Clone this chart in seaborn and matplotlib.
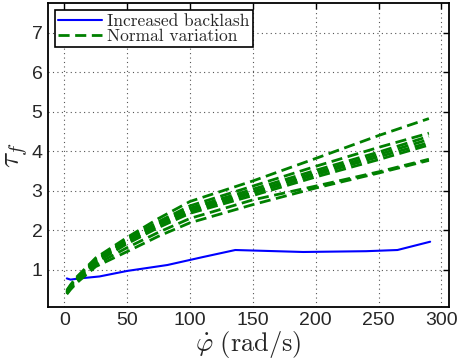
import numpy as np
import pandas as pd
import matplotlib
matplotlib.use("Agg")
import matplotlib.pyplot as plt
import seaborn as sns

# Data
blue_x = [2, 5, 12, 28, 50, 82, 110, 136, 190, 240, 265, 291]
blue_y = [0.78, 0.75, 0.78, 0.83, 0.97, 1.12, 1.32, 1.50, 1.45, 1.47, 1.50, 1.71]

green_x = [2, 5, 10, 25, 50, 75, 100, 150, 200, 250, 290]
green_a = [0.48, 0.62, 0.82, 1.30, 1.82, 2.30, 2.73, 3.25, 3.82, 4.40, 4.83]
green_b = [0.46, 0.60, 0.80, 1.27, 1.78, 2.22, 2.62, 3.12, 3.62, 4.10, 4.46]
green_c = [0.44, 0.58, 0.78, 1.25, 1.75, 2.18, 2.56, 3.04, 3.52, 3.98, 4.38]
green_d = [0.43, 0.57, 0.77, 1.23, 1.72, 2.14, 2.52, 2.98, 3.46, 3.92, 4.30]
green_e = [0.42, 0.56, 0.76, 1.21, 1.70, 2.11, 2.48, 2.94, 3.41, 3.86, 4.22]
green_f = [0.40, 0.55, 0.74, 1.18, 1.66, 2.07, 2.43, 2.88, 3.35, 3.79, 4.16]
green_g = [0.40, 0.53, 0.71, 1.13, 1.56, 1.95, 2.30, 2.77, 3.12, 3.48, 3.80]
green_h = [0.38, 0.50, 0.67, 1.08, 1.46, 1.85, 2.19, 2.65, 3.07, 3.45, 3.77]
green_curves = [green_a, green_b, green_c, green_d, green_e, green_f, green_g, green_h]

xticks = [0, 50, 100, 150, 200, 250, 300]
yticks = [1, 2, 3, 4, 5, 6, 7]

sns.set_style("white")
plt.rcParams['mathtext.fontset'] = 'cm'

fig = plt.figure(figsize=(4.61, 3.64), dpi=100)
ax = fig.add_axes([0.104, 0.157, 0.870, 0.835])

sns.lineplot(x=blue_x, y=blue_y, ax=ax, color='#0000ff', linewidth=1.5,
             label='Increased backlash', estimator=None, sort=False)
for i, cy in enumerate(green_curves):
    sns.lineplot(x=green_x, y=cy, ax=ax, color='#008000', linewidth=2.0,
                 label='Normal variation' if i == 0 else None,
                 estimator=None, sort=False)
for ln in ax.lines[1:]:
    ln.set_dashes((4, 2))

ax.set_xlim(-13, 306)
ax.set_ylim(0.06, 7.76)
ax.set_xticks(xticks)
ax.set_yticks(yticks)
ax.grid(True, linestyle=(0, (1, 3)), color='#555555', linewidth=0.8)
ax.tick_params(direction='in', top=True, right=True, length=4, width=1,
               labelsize=14, color='black', pad=4)
for lab in ax.get_xticklabels() + ax.get_yticklabels():
    lab.set_family('Liberation Sans')
for s in ax.spines.values():
    s.set_linewidth(1.3)
    s.set_color('black')

ax.set_xlabel(r'$\dot{\varphi}\ \mathrm{(rad/s)}$', fontsize=19, labelpad=0)
ax.set_ylabel(r'$\tau_f$', fontsize=21, labelpad=1)

leg = ax.legend(loc='upper left', bbox_to_anchor=(0.0, 1.0), fancybox=False,
                edgecolor='black', framealpha=1, borderpad=0.2, handlelength=2.5,
                handletextpad=0.3, labelspacing=0.0, borderaxespad=0.4,
                prop={'family': 'cmr10', 'size': 12.5})
leg.get_frame().set_linewidth(1.2)

fig.savefig('out.png', dpi=100)
